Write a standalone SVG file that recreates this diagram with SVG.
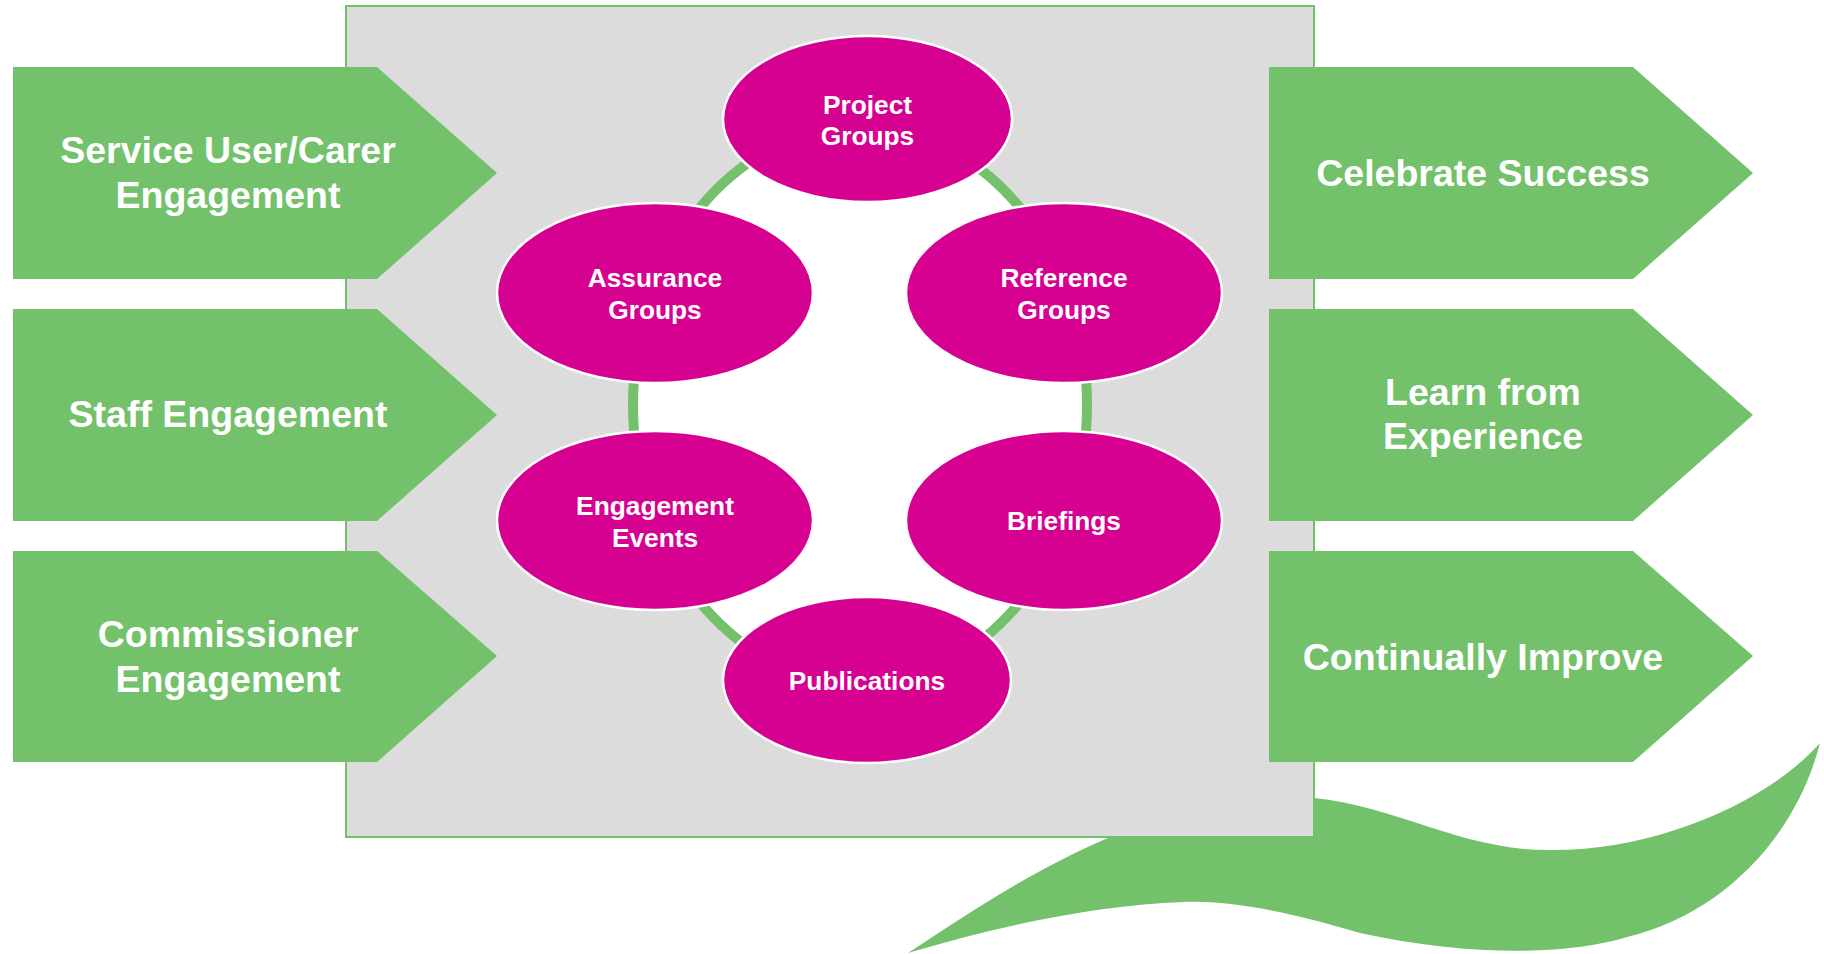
<svg xmlns="http://www.w3.org/2000/svg" width="1824" height="954" viewBox="0 0 1824 954">
<style>
.arrow{fill:#73C16B}
.node{fill:#D60091;stroke:#FFFFFF;stroke-width:2.5}
.at{font-family:"Liberation Sans",Arial,sans-serif;font-weight:bold;font-size:37.5px;fill:#FFFFFF;text-anchor:middle}
.nt{font-family:"Liberation Sans",Arial,sans-serif;font-weight:bold;font-size:26.3px;fill:#FFFFFF;text-anchor:middle}
</style>
<rect x="0" y="0" width="1824" height="954" fill="#FFFFFF"/>
<g id="wave">
<path d="M908,953 C1000,892 1150,790 1300,797 C1390,801 1460,852 1553,850 C1660,850 1770,800 1820,743 C1795,840 1720,915 1627,937 C1570,955 1470,957 1360,933 C1290,912 1230,900 1183,902 C1100,905 1000,925 908,953 Z" fill="#73C16B"/>
</g>
<g id="panel">
<rect x="346" y="6" width="968" height="831" fill="#DCDCDC" stroke="#73C16B" stroke-width="2"/>
</g>
<g id="connectors">
<ellipse cx="860" cy="405" rx="227" ry="278" fill="#FFFFFF" stroke="#73C16B" stroke-width="10"/>
</g>
<g id="arrow-service">
<polygon class="arrow" points="13,67 377,67 497,173 377,279 13,279"/>
<text class="at" x="228" y="163">Service User/Carer</text>
<text class="at" x="228" y="208">Engagement</text>
</g>
<g id="arrow-staff">
<polygon class="arrow" points="13,309 377,309 497,415 377,521 13,521"/>
<text class="at" x="228" y="427">Staff Engagement</text>
</g>
<g id="arrow-commissioner">
<polygon class="arrow" points="13,551 377,551 497,656 377,762 13,762"/>
<text class="at" x="228" y="647">Commissioner</text>
<text class="at" x="228" y="692">Engagement</text>
</g>
<g id="arrow-celebrate">
<polygon class="arrow" points="1269,67 1633,67 1753,173 1633,279 1269,279"/>
<text class="at" x="1483" y="186">Celebrate Success</text>
</g>
<g id="arrow-learn">
<polygon class="arrow" points="1269,309 1633,309 1753,415 1633,521 1269,521"/>
<text class="at" x="1483" y="405">Learn from</text>
<text class="at" x="1483" y="449">Experience</text>
</g>
<g id="arrow-improve">
<polygon class="arrow" points="1269,551 1633,551 1753,656 1633,762 1269,762"/>
<text class="at" x="1483" y="670">Continually Improve</text>
</g>
<g id="node-project">
<ellipse class="node" cx="867.5" cy="119" rx="144.5" ry="83"/>
<text class="nt" x="867.5" y="114">Project</text>
<text class="nt" x="867.5" y="145">Groups</text>
</g>
<g id="node-assurance">
<ellipse class="node" cx="655" cy="293" rx="158" ry="90"/>
<text class="nt" x="655" y="287">Assurance</text>
<text class="nt" x="655" y="319">Groups</text>
</g>
<g id="node-reference">
<ellipse class="node" cx="1064" cy="293" rx="158" ry="90"/>
<text class="nt" x="1064" y="287">Reference</text>
<text class="nt" x="1064" y="319">Groups</text>
</g>
<g id="node-engagement">
<ellipse class="node" cx="655" cy="520.5" rx="158" ry="89.5"/>
<text class="nt" x="655" y="515">Engagement</text>
<text class="nt" x="655" y="547">Events</text>
</g>
<g id="node-briefings">
<ellipse class="node" cx="1064" cy="520.5" rx="158" ry="89.5"/>
<text class="nt" x="1064" y="530">Briefings</text>
</g>
<g id="node-publications">
<ellipse class="node" cx="867" cy="680" rx="144" ry="83"/>
<text class="nt" x="867" y="690">Publications</text>
</g>
</svg>
